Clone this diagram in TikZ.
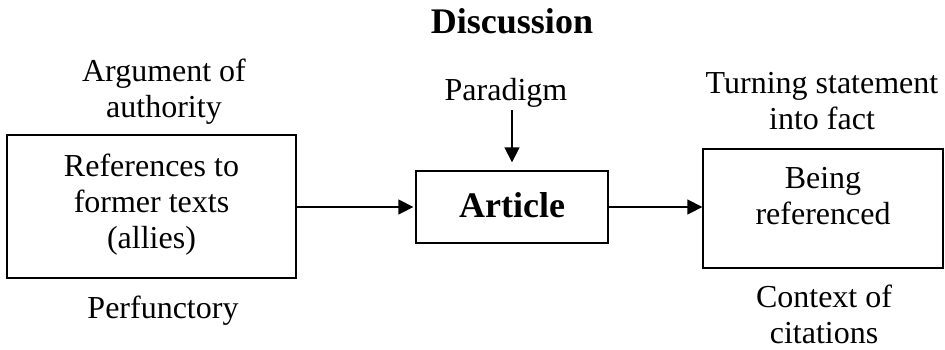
\documentclass[tikz,border=0pt]{standalone}
\usepackage{fontspec}
\setmainfont{Liberation Serif}
\usetikzlibrary{arrows.meta}

\begin{document}
\begin{tikzpicture}[x=0.5pt,y=-0.5pt,
	txt/.style={inner sep=0pt,align=center,font=\fontsize{16}{18}\selectfont},
	box/.style={draw,line width=0.65pt,inner sep=0pt,align=center,font=\fontsize{16}{18}\selectfont},
	arr/.style={line width=0.65pt,-{Triangle[length=7.5pt,width=7.5pt]}}]
	\useasboundingbox (0,0) rectangle (945,349);
	\node[txt,anchor=base,font=\fontsize{18}{21}\selectfont\bfseries] (disc) at (512,33) {Discussion};
	\node[box,minimum width=144.5pt,minimum height=71.5pt,text depth=5.5pt] (refs) at (151.5,206.5) {References to\\former texts\\(allies)};
	\node[box,minimum width=96pt,minimum height=36pt,text depth=2pt,font=\fontsize{18}{21}\selectfont\bfseries] (article) at (512,207) {Article};
	\node[box,minimum width=120pt,minimum height=59.5pt,text depth=13pt] (being) at (823,208.5) {Being\\referenced};
	\node[txt] (authority) at (164,92) {Argument of\\authority};
	\node[txt,anchor=base] (paradigm) at (506,100) {Paradigm};
	\node[txt] (fact) at (822,101) {Turning statement\\into fact};
	\node[txt,anchor=base] (perf) at (163,318) {Perfunctory};
	\node[txt] (context) at (824,314.5) {Context of\\citations};
	\draw[arr,shorten >=1pt] (refs.east |- article.west) -- (article.west);
	\draw[arr] (article.east) -- (article.east -| being.west);
	\draw[arr,shorten <=1.5pt,shorten >=4pt] (paradigm.south -| article.north) -- (article.north);
\end{tikzpicture}
\end{document}
